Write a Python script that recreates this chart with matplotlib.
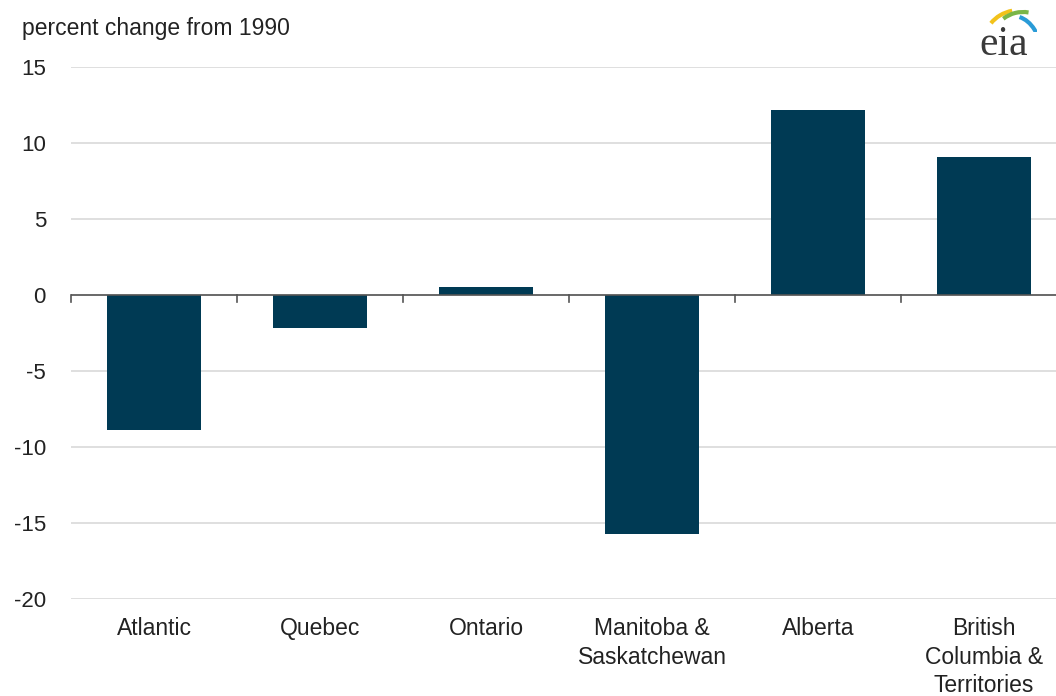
import numpy as np
import matplotlib.pyplot as plt
from matplotlib.patches import Arc

regions = ['Atlantic', 'Quebec', 'Ontario', 'Manitoba &\nSaskatchewan', 'Alberta',
           'British\nColumbia &\nTerritories']
pct_change = [-8.9, -2.2, 0.5, -15.7, 12.2, 9.1]
yticks = [15, 10, 5, 0, -5, -10, -15, -20]

plt.rcParams['font.family'] = ['Liberation Sans', 'DejaVu Sans']

fig = plt.figure(figsize=(10.56, 6.96), dpi=100)
# axes spans x 71..1056 px, y 67..599 px
ax = fig.add_axes([71 / 1056, 1 - 599 / 696, (1056 - 71) / 1056, (599 - 67) / 696])

x = np.arange(len(regions))
ax.bar(x, pct_change, width=0.57, color='#003a54', zorder=3)

ax.set_ylim(-20, 15)
ax.set_xlim(-0.5, 5.5 - 11 / 166)
ax.set_yticks(yticks)
ax.set_yticklabels([str(t) for t in yticks], fontsize=16, color='#222222')
ax.tick_params(axis='y', length=0, pad=18)
ax.grid(axis='y', color='#d9d9d9', linewidth=1.2, zorder=0)

# category boundary ticks on the zero line
ax.set_xticks([])
ax.axhline(0, color='#555555', linewidth=1.2, zorder=4)
for b in np.arange(-0.5, 5.5, 1.0):
    ax.plot([b, b], [0, -0.45], color='#555555', linewidth=1.2, zorder=4, clip_on=False)

for xi, name in zip(x, regions):
    ax.text(xi, -21.2, name, ha='center', va='top', fontsize=16.5, color='#222222',
            linespacing=1.3)

for s in ax.spines.values():
    s.set_visible(False)

fig.text(22 / 1056, 1 - 28 / 696, 'percent change from 1990', fontsize=16.5,
         color='#222222', va='center', ha='left')

# eia logo
fig.text(1004 / 1056, 1 - 45 / 696, 'eia', fontsize=30, family=['Liberation Serif', 'DejaVu Serif'],
         color='#3a3a3a', ha='center', va='center')
lax = fig.add_axes([975 / 1056, 1 - 32 / 696, 62 / 1056, 28 / 696])
lax.set_xlim(0, 62)
lax.set_ylim(0, 28)
lax.axis('off')
lax.add_patch(Arc((45, -8), 70, 60, theta1=105, theta2=150, color='#f2c21b', lw=3))
lax.add_patch(Arc((48, -12), 64, 64, theta1=80, theta2=128, color='#7ab648', lw=3))
lax.add_patch(Arc((38, -22), 56, 76, theta1=5, theta2=80, color='#2a9bd7', lw=3))

fig.savefig('out.png', dpi=100)
